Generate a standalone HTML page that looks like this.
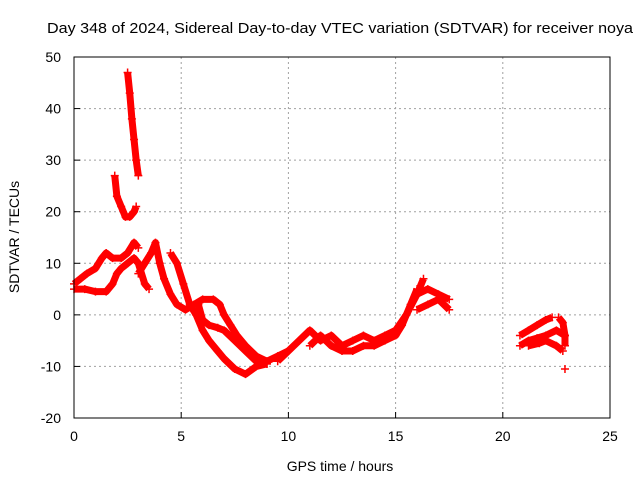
<!DOCTYPE html>
<html><head><meta charset="utf-8"><style>
body{margin:0;background:#fff}
svg{display:block;font-family:"Liberation Sans",sans-serif}
</style></head><body>
<svg id="c" width="640" height="480">
<rect width="640" height="480" fill="#fff"/>
<text x="47" y="33" font-size="15" textLength="586" lengthAdjust="spacingAndGlyphs">Day 348 of 2024, Sidereal Day-to-day VTEC variation (SDTVAR) for receiver noya</text>
<text x="340" y="471" font-size="14" text-anchor="middle">GPS time / hours</text>
<text transform="translate(19,237) rotate(-90)" font-size="14" text-anchor="middle">SDTVAR / TECUs</text>
<g id="grid"></g>
<g id="ticks"></g>
<g id="series"></g>
<rect x="74" y="57" width="536" height="361" fill="none" stroke="#000" stroke-width="1"/>
</svg>
<script>
const xTicks=[0,5,10,15,20,25];
const yTicks=[-20,-10,0,10,20,30,40,50];
const trackA=[[0,6],[0.3,7],[0.6,8],[1,9],[1.3,11],[1.5,12],[1.8,11],[2.2,11],[2.5,12],[2.8,14],[3,13]];
const trackB=[[0,5],[0.5,5],[1,4.5],[1.5,4.5],[1.8,6],[2,8],[2.2,9],[2.5,10],[2.8,11],[3,10],[3.3,6],[3.5,5]];
const spike1=[[1.9,27],[2,23],[2.2,21],[2.4,19],[2.6,19],[2.8,20],[2.9,21]];
const spike2=[[2.5,47],[2.6,43],[2.7,38],[2.8,34],[2.9,30],[3.0,27]];
const trackC=[[3,8],[3.3,10],[3.6,12],[3.8,14],[4,10],[4.2,7],[4.5,4],[4.8,2],[5.2,1],[5.6,2],[6,3],[6.5,3],[6.8,2],[7,0],[7.3,-2],[7.6,-4],[8,-6],[8.5,-8],[9,-9],[9.5,-8],[10,-7]];
const trackD=[[4.5,12],[4.8,10],[5.1,6],[5.4,2],[5.7,0],[6,-3],[6.3,-5],[6.7,-7],[7,-8.5],[7.5,-10.5],[8,-11.5],[8.5,-10],[9,-9.5]];
const trackE=[[5.8,2],[6,-1],[6.3,-2],[6.7,-2.5],[7,-3],[7.5,-5],[8,-7],[8.5,-9],[9,-9.5]];
const trackF=[[9.5,-9],[10,-7],[10.5,-5],[11,-3],[11.5,-5],[12,-4],[12.5,-6],[13,-5],[13.5,-4],[14,-5],[14.5,-4],[15,-3],[15.5,0],[16,4],[16.3,7]];
const trackG=[[11,-6],[11.5,-4],[12,-6],[12.5,-7],[13,-7],[13.5,-6],[14,-6],[14.5,-5],[15,-4],[15.3,-2],[15.7,2],[16,5]];
const trackH=[[16,4],[16.5,5],[17,4],[17.5,3]];
const trackH2=[[16,1],[16.5,2],[17,3],[17.5,1]];
const trackI1=[[20.8,-4],[21.2,-3],[21.6,-2],[22,-1],[22.3,-0.5]];
const trackI2=[[20.8,-6],[21.2,-5],[21.6,-4.5],[22,-4],[22.5,-3],[22.9,-4]];
const trackI3=[[21.2,-6],[21.7,-5.5],[22,-5],[22.5,-6],[22.8,-7]];
const trackI4=[[22.6,-0.5],[22.8,-1.5],[22.9,-4],[22.9,-6]];
const outlier=[[22.9,-10.5]];
const tracks=[trackA,trackB,spike1,spike2,trackC,trackD,trackE,trackF,trackG,trackH,trackH2,trackI1,trackI2,trackI3,trackI4,outlier];
const X0=74,X1=610,Y0=418,Y1=57;
const sx=v=>X0+(v-0)/(25-0)*(X1-X0);
const sy=v=>Y0-(v+20)/(70)*(Y0-Y1);
const NS="http://www.w3.org/2000/svg";
const grid=document.getElementById('grid'),ticks=document.getElementById('ticks'),ser=document.getElementById('series');
function mk(t,a,p){const e=document.createElementNS(NS,t);for(const k in a)e.setAttribute(k,a[k]);p.appendChild(e);return e;}
xTicks.forEach(v=>{const x=sx(v);
 if(v>0&&v<25){const l=mk('line',{x1:x,x2:x,y1:Y1,y2:Y0,stroke:'#a0a0a0','stroke-dasharray':'2,3'},grid);
 }
 const t=mk('line',{x1:x,x2:x,y1:Y0,y2:Y0-6,stroke:'#000'},ticks);
 
 const tx=mk('text',{x:x,y:Y0+23,'font-size':14,'text-anchor':'middle'},ticks);tx.textContent=v;
 });
yTicks.forEach(v=>{const y=sy(v);
 if(v>-20&&v<50){const l=mk('line',{x1:X0,x2:X1,y1:y,y2:y,stroke:'#a0a0a0','stroke-dasharray':'2,3'},grid);
 }
 const t=mk('line',{x1:X0,x2:X0+6,y1:y,y2:y,stroke:'#000'},ticks);
 
 const tx=mk('text',{x:X0-13,y:y+5,'font-size':14,'text-anchor':'end'},ticks);tx.textContent=v;
 });
tracks.forEach(tr=>{
 if(tr.length>1){const pl=mk('polyline',{points:tr.map(p=>sx(p[0])+','+sy(p[1])).join(' '),fill:'none',stroke:'#f00','stroke-width':7,'stroke-linejoin':'round'},ser);
 }
 tr.forEach(p=>{const x=sx(p[0]),y=sy(p[1]);
  const m=mk('path',{d:`M${x-4},${y}H${x+4}M${x},${y-4}V${y+4}`,stroke:'#f00','stroke-width':1.5},ser);
  });
});
</script>
</body></html>
